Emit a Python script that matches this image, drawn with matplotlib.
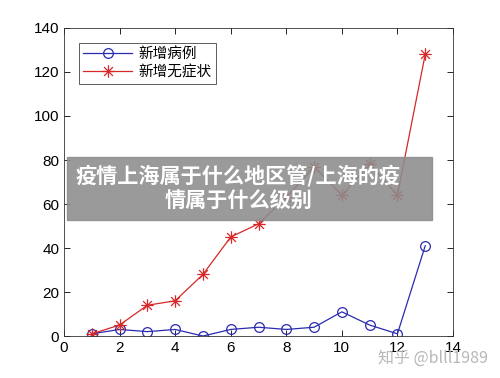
import numpy as np
import matplotlib.pyplot as plt
from matplotlib.path import Path

plt.rcParams['font.family'] = ['Liberation Sans', 'Noto Sans CJK SC', 'DejaVu Sans']

# data
days = [1, 2, 3, 4, 5, 6, 7, 8, 9, 10, 11, 12, 13]
new_cases = [1, 3, 2, 3, 0, 3, 4, 3, 4, 11, 5, 1, 41]
new_asym = [1, 5, 14, 16, 28, 45, 51, 63, 77, 64, 78, 64, 128]
labels = ['新增病例', '新增无症状']
banner_text = '疫情上海属于什么地区管/上海的疫\n情属于什么级别'

# MATLAB-style asterisk marker (8 spokes)
d = 0.707
star_verts = [(-1, 0), (1, 0), (0, -1), (0, 1), (-d, -d), (d, d), (-d, d), (d, -d)]
star_codes = [Path.MOVETO, Path.LINETO] * 4
asterisk = Path(star_verts, star_codes)

fig = plt.figure(figsize=(5, 3.78), dpi=100)
ax = fig.add_axes([0.128, 0.111, 0.778, 0.815])

ax.plot(days, new_cases, '-o', color='#2b2bb0', linewidth=0.9, markersize=7,
        markerfacecolor='none', markeredgewidth=0.9, label=labels[0])
ax.plot(days, new_asym, '-', marker=asterisk, color='#d62828', linewidth=0.9,
        markersize=9, markeredgewidth=0.9, markerfacecolor='none', label=labels[1])

ax.set_xlim(0, 14)
ax.set_ylim(0, 140)
ax.set_xticks(np.arange(0, 15, 2))
ax.set_yticks(np.arange(0, 141, 20))
ax.tick_params(direction='in', top=True, right=True, labelsize=11, length=4, width=0.6)
for s in ax.spines.values():
    s.set_linewidth(0.6)
    s.set_color('#333333')

leg = ax.legend(loc='upper left', bbox_to_anchor=(0.02, 0.975), fancybox=False,
                edgecolor='#333333', handlelength=3.3,
                borderpad=0.3, labelspacing=0.25, handletextpad=0.5,
                prop={'family': ['Noto Sans CJK SC'], 'size': 10.5})
leg.get_frame().set_linewidth(0.7)

# grey banner overlay
fig.patches.append(plt.Rectangle((67 / 500, 1 - 220 / 378), 365 / 500, 63 / 378,
                                 transform=fig.transFigure, color='#8c8c8c',
                                 alpha=0.88, zorder=5))
fig.text(0.477, 1 - 188 / 378, banner_text, ha='center', va='center',
         color='white', fontsize=15.2, fontweight='bold', linespacing=1.15,
         family=['Noto Sans CJK SC'], zorder=6)

fig.text(0.975, 1 - 358 / 378, '知乎 @blll1989', ha='right', va='center',
         color='#b8b8b8', fontsize=11.5, family=['Noto Sans CJK SC', 'DejaVu Sans'],
         zorder=6)

fig.savefig('out.png', dpi=100)
